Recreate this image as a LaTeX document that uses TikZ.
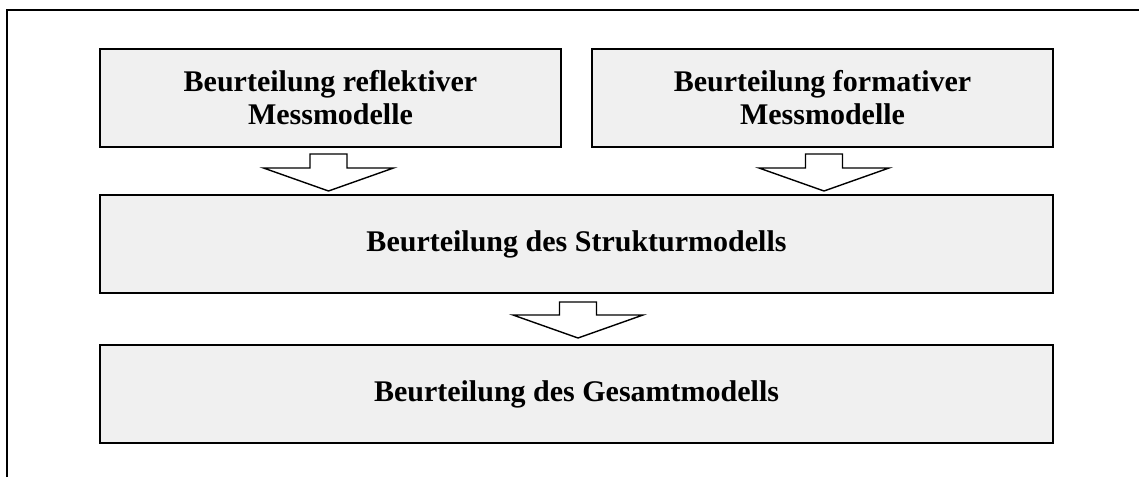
\documentclass[tikz,border=0pt]{standalone}
\usepackage{fontspec}
\setmainfont{Liberation Serif}
\usepackage{tikz}
\usetikzlibrary{positioning,calc}

\definecolor{boxfill}{HTML}{F0F0F0}

\tikzset{
	stage/.style={draw=black, line width=2pt, fill=boxfill, align=center,
		font=\fontsize{30}{33}\selectfont\bfseries, inner sep=0pt,
		minimum height=98pt},
	smallstage/.style={stage, minimum width=461pt},
	widestage/.style={stage, minimum width=953pt},
	blockarrow/.style={draw=black, line width=1.4pt, fill=white, line join=miter}
}

% hollow block arrow, #1 = top middle of the shaft, #2 = shaft height
\newcommand{\downarrowat}[2]{%
	\path[blockarrow] (#1) ++(-18.5,0) -- ++(37,0) -- ++(0,#2) -- ++(46.5,0)
		-- ++(-65,23) -- ++(-65,-23) -- ++(46.5,0) -- cycle;}

\begin{document}
\begin{tikzpicture}[x=1pt,y=-1pt]

	\useasboundingbox (0,0) rectangle (1139,477);

	% frame
	\draw[line width=2pt] (7,477) -- (7,10) -- (1139,10);

	\node[smallstage] (refl) at (330.5,98) {Beurteilung reflektiver\\Messmodelle};
	\node[smallstage] (form) at (822.5,98) {Beurteilung formativer\\Messmodelle};
	\node[widestage] (struk) at (576.5,244) {Beurteilung des Strukturmodells};
	\node[widestage] (gesamt) at (576.5,394) {Beurteilung des Gesamtmodells};

	\coordinate (a1) at ($(refl.south)+(-2,6)$);
	\coordinate (a2) at ($(form.south)+(1.5,6)$);
	\coordinate (a3) at ($(struk.south)+(1.5,8)$);
	\downarrowat{a1}{14}
	\downarrowat{a2}{14}
	\downarrowat{a3}{13}

\end{tikzpicture}
\end{document}
